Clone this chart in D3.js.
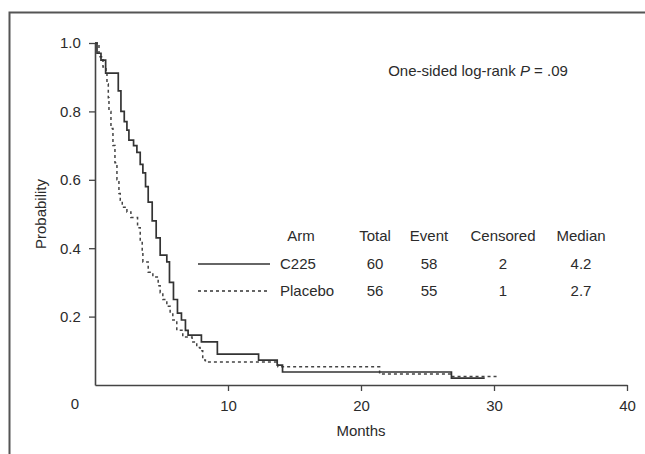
<!DOCTYPE html>
<html>
<head>
<meta charset="utf-8">
<script src="https://cdn.jsdelivr.net/npm/d3@7"></script>
<style>
  body { margin: 0; background: #fff; }
  text { font-family: "Liberation Sans", Arial, sans-serif; fill: #2b2b2b; }
</style>
</head>
<body>
<div id="chart"></div>
<script>
const width = 645;
const height = 454;

// Kaplan-Meier steps: month, survival probability
const c225Times = [0, 0.15, 0.45, 0.8, 1.75, 1.95, 2.2, 2.4, 2.55, 2.9, 3.15, 3.4, 3.6, 3.8, 4.0, 4.3, 4.6, 4.9, 5.4, 5.6, 5.9, 6.2, 6.5, 6.8, 7.0, 8.0, 9.2, 12.3, 13.7, 14.1, 26.8, 29.3];
const c225Surv  = [1.0, 0.97, 0.95, 0.912, 0.86, 0.80, 0.77, 0.745, 0.716, 0.70, 0.68, 0.645, 0.62, 0.58, 0.535, 0.48, 0.43, 0.38, 0.36, 0.30, 0.25, 0.21, 0.19, 0.16, 0.146, 0.126, 0.09, 0.073, 0.058, 0.038, 0.02, 0.02];

const placeboTimes = [0, 0.3, 0.6, 0.83, 0.9, 1.0, 1.05, 1.2, 1.35, 1.5, 1.65, 1.8, 1.9, 2.05, 2.4, 2.7, 3.2, 3.4, 3.55, 3.6, 4.0, 4.35, 4.75, 4.9, 5.1, 5.4, 5.65, 5.85, 6.15, 6.6, 7.3, 7.65, 7.9, 8.1, 8.3, 13.75, 21.4, 26.8, 30.2];
const placeboSurv  = [1.0, 0.96, 0.93, 0.91, 0.88, 0.84, 0.80, 0.75, 0.70, 0.65, 0.60, 0.56, 0.54, 0.52, 0.506, 0.49, 0.46, 0.42, 0.39, 0.36, 0.33, 0.316, 0.29, 0.27, 0.25, 0.23, 0.21, 0.19, 0.16, 0.14, 0.126, 0.11, 0.10, 0.073, 0.067, 0.053, 0.032, 0.025, 0.025];

const xTicks = [10, 20, 30, 40];
const yTicks = [0.2, 0.4, 0.6, 0.8, 1.0];

const tableHeader = ["Arm", "Total", "Event", "Censored", "Median"];
const arms = ["C225", "Placebo"];
const totals = [60, 56];
const events = [58, 55];
const censored = [2, 1];
const medians = ["4.2", "2.7"];

const fontSize = "15px";

const svg = d3.select("#chart")
    .append("svg")
    .attr("width", width)
    .attr("height", height);

// outer frame (only left and top show in the picture)
svg.append("path")
    .attr("d", "M9.5,454 V12.5 H645")
    .attr("fill", "none")
    .attr("stroke", "#555")
    .attr("stroke-width", 2);

const x = d3.scaleLinear().domain([0, 40]).range([95, 627]);
const y = d3.scaleLinear().domain([0, 1]).range([385, 43]);

const xAxis = svg.append("g")
    .attr("transform", `translate(0,${y(0)})`)
    .call(d3.axisBottom(x).tickValues(xTicks).tickSize(6).tickSizeOuter(0).tickFormat(d3.format("d")));

const yAxis = svg.append("g")
    .attr("transform", `translate(${x(0)},0)`)
    .call(d3.axisLeft(y).tickValues(yTicks).tickSize(6).tickSizeOuter(0).tickFormat(d3.format(".1f")));

[xAxis, yAxis].forEach(g => {
    g.select(".domain").attr("stroke", "#444").attr("stroke-width", 1.6);
    g.selectAll(".tick line").attr("stroke", "#444").attr("stroke-width", 1.3);
    g.selectAll(".tick text").style("font-size", fontSize).attr("fill", "#2b2b2b");
});
xAxis.selectAll(".tick text").attr("dy", "1.1em");
yAxis.selectAll(".tick text").attr("dx", "-0.35em");

// the shared origin label sits left of the axis corner
svg.append("text")
    .attr("x", x(0) - 20)
    .attr("y", y(0) + 24)
    .attr("text-anchor", "middle")
    .style("font-size", fontSize)
    .text("0");

svg.append("text")
    .attr("x", x(20))
    .attr("y", 436)
    .attr("text-anchor", "middle")
    .style("font-size", fontSize)
    .text("Months");

svg.append("text")
    .attr("transform", `translate(46,${y(0.5)}) rotate(-90)`)
    .attr("text-anchor", "middle")
    .style("font-size", fontSize)
    .text("Probability");

const pText = svg.append("text")
    .attr("x", 478)
    .attr("y", 76)
    .attr("text-anchor", "middle")
    .style("font-size", fontSize);
pText.append("tspan").text("One-sided log-rank ");
pText.append("tspan").attr("font-style", "italic").text("P");
pText.append("tspan").text(" = .09");

const line = d3.line()
    .x(d => x(d[0]))
    .y(d => y(d[1]))
    .curve(d3.curveStepAfter);

const c225 = d3.zip(c225Times, c225Surv);
const placebo = d3.zip(placeboTimes, placeboSurv);

svg.append("path")
    .datum(placebo)
    .attr("d", line)
    .attr("fill", "none")
    .attr("stroke", "#444")
    .attr("stroke-width", 1.5)
    .attr("stroke-dasharray", "3,3");

svg.append("path")
    .datum(c225)
    .attr("d", line)
    .attr("fill", "none")
    .attr("stroke", "#333")
    .attr("stroke-width", 1.7);

// legend table
const colX = [301, 375, 429, 503, 581];
const rowY = [241, 269, 296];

svg.append("g").selectAll("text")
    .data(tableHeader)
    .join("text")
    .attr("x", (d, i) => colX[i])
    .attr("y", rowY[0])
    .attr("text-anchor", "middle")
    .style("font-size", fontSize)
    .text(d => d);

arms.forEach((arm, i) => {
    const yy = rowY[i + 1];
    svg.append("line")
        .attr("x1", 198).attr("x2", 270)
        .attr("y1", yy - 5).attr("y2", yy - 5)
        .attr("stroke", "#333")
        .attr("stroke-width", i === 0 ? 1.7 : 1.5)
        .attr("stroke-dasharray", i === 0 ? null : "3,3");
    svg.append("text").attr("x", 280).attr("y", yy).style("font-size", fontSize).text(arm);
    [totals[i], events[i], censored[i], medians[i]].forEach((v, j) => {
        svg.append("text")
            .attr("x", colX[j + 1])
            .attr("y", yy)
            .attr("text-anchor", "middle")
            .style("font-size", fontSize)
            .text(v);
    });
});
</script>
</body>
</html>
